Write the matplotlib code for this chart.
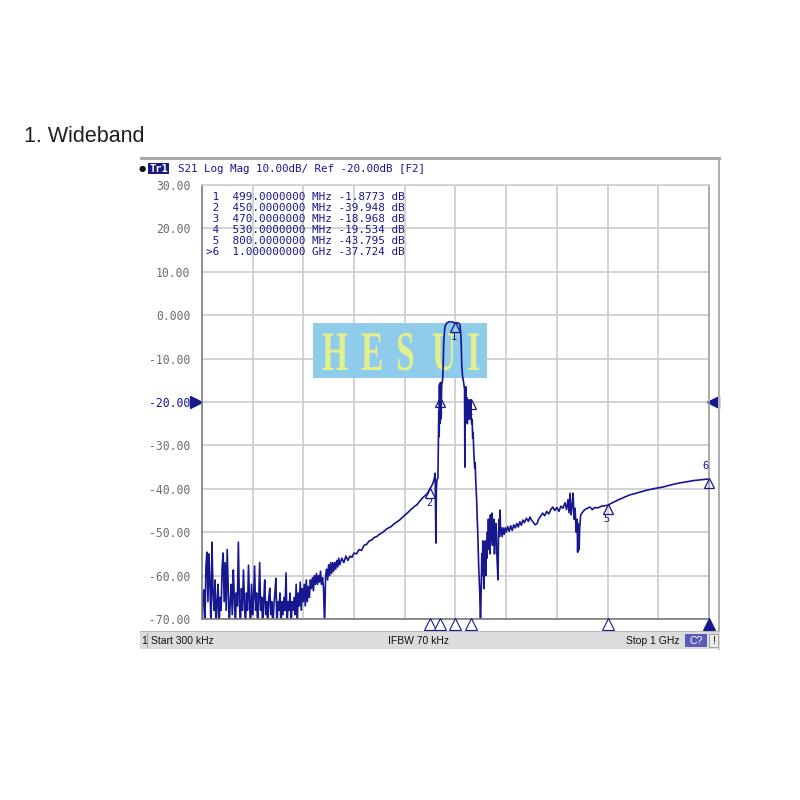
import matplotlib.pyplot as plt
import matplotlib.transforms as mtransforms
from matplotlib.patches import Rectangle, PathPatch
from matplotlib.textpath import TextPath
from matplotlib.font_manager import FontProperties

# ---------------- datos (MHz, dB) ----------------
# piso de ruido
ruido_freq = [0.3, 2, 4, 6, 8, 10, 12, 14, 16, 18,
              20, 22, 24, 26, 28, 30, 32, 34, 36, 38,
              40, 42, 44, 46, 48, 50, 52, 54, 56, 58,
              60, 62, 64, 66, 68, 70, 72, 74, 76, 78,
              80, 82, 84, 86, 88, 90, 92, 94, 96, 98,
              100, 102, 104, 106, 108, 110, 112, 114, 116, 118,
              120, 122, 124, 126, 128, 130, 132, 134, 136, 138,
              140, 142, 144, 146, 148, 150, 152, 154, 156, 158,
              160, 162, 164, 166, 168, 170, 172, 174, 176, 178,
              180, 182, 184, 186, 188, 190, 192, 194, 196, 198,
              200, 202, 204, 206, 208, 210, 212, 214]
ruido_db = [-72, -64, -63.3, -72, -58, -54.6, -66, -55, -62, -72,
            -52.3, -64, -68, -61, -72, -66, -62, -72, -65, -68,
            -58, -54.8, -66, -57, -68, -54, -63, -72, -66, -62,
            -69, -58.7, -65, -72, -64, -67, -52.3, -66, -72, -63,
            -68, -58.7, -66, -72, -64, -68, -57.6, -66, -72, -62,
            -69, -65, -57.8, -68, -64, -72, -66, -57, -68, -65,
            -72, -66, -61, -69, -66, -72, -65, -62.9, -69, -66,
            -72, -67, -64, -60.6, -72, -66, -68, -64, -72, -66,
            -69, -65, -68, -59.4, -72, -66, -68, -64, -72, -66,
            -68, -65, -69, -62, -72, -64, -67, -61.5, -68, -63,
            -66, -62, -67, -61, -66, -62.5, -65, -61]

# flanco inferior
flanco_bajo_freq = [216, 218, 220, 222, 224, 226, 228, 230, 232, 234,
                    236, 238, 240, 242, 244, 246, 248, 250, 252, 254,
                    256, 258, 260, 262, 264, 266, 268, 270, 272, 276,
                    280, 284, 288, 292, 296, 300, 305, 310, 315, 320,
                    325, 330, 335, 340, 345, 350, 357, 365, 372, 380,
                    390, 398, 405, 412, 420, 424, 430, 436, 442, 446,
                    450, 455, 458]
flanco_bajo_db = [-63, -60.5, -63.5, -60, -62, -59.5, -62, -60, -61.5, -59,
                  -62, -60.5, -63, -72, -60, -58.5, -61, -57.5, -60, -57,
                  -59.5, -57, -59, -57, -58.5, -56.5, -58, -56, -57.5, -56,
                  -57, -55.5, -56.5, -55.5, -55.8, -54.8, -55, -54, -54.2, -53,
                  -52.8, -52, -51.8, -51.2, -51, -50.5, -50, -49.2, -48.8, -48,
                  -47.2, -46.3, -45.6, -44.8, -44.0, -43.7, -42.8, -42.0, -41.4, -40.8,
                  -39.95, -38.9, -37.8]

# banda de paso
paso_freq = [459, 460, 461.5, 462.5, 463.5, 465.5, 467, 467.5, 468, 468.5,
             469, 469.5, 470, 470.5, 471, 471.5, 472, 473, 474, 475,
             476, 477, 478, 479, 480, 483, 487, 492, 495, 499,
             503, 507, 509, 511, 512.5, 514, 516, 518, 518.6, 519.5,
             520.5, 521.5, 522.5, 523.5, 524.5, 525.5, 526.5, 527.5, 528.5, 529.5,
             530, 531, 532, 533, 534, 535, 536, 538, 539, 540,
             542, 543, 544, 545, 546, 548, 549.5]
paso_db = [-37.2, -36.4, -52.5, -40, -38, -37.5, -24, -22, -28, -16,
           -25, -18, -19, -15.5, -24, -17, -21, -16, -15.5, -14.5,
           -11, -6, -4.6, -3, -2.4, -1.8, -1.55, -1.5, -1.6, -1.88,
           -1.7, -1.9, -2.2, -5, -11.5, -14, -15.4, -17, -35, -18,
           -16.5, -22, -19, -25, -20, -24, -19.5, -23, -20.5, -24,
           -19.5, -23, -25, -24, -28.3, -27, -31, -35.2, -34, -38,
           -43, -47, -50, -54, -58.2, -64, -72]

# flanco superior
flanco_alto_freq = [551, 552, 553, 554, 555, 556, 557, 558, 559, 560,
                    561, 562, 563, 564, 565, 566, 567, 568, 569, 570,
                    571, 572, 573, 574, 575, 576, 577, 578, 579, 580,
                    582, 584, 585, 586, 587, 588, 589, 590, 592, 594,
                    596, 598, 600, 603, 606, 609, 612, 615, 618, 621,
                    624, 627, 630, 633, 636, 640, 644, 647, 650, 654,
                    657, 661, 664, 668, 672, 676, 680, 684, 688, 692,
                    696, 700, 704, 708, 712, 716, 719, 722, 724, 726,
                    728, 730, 732, 734, 736, 738, 740, 741, 742, 743,
                    744, 745, 747, 750, 755, 760, 765, 770, 775, 781,
                    788, 795, 800, 810, 820, 830, 844, 860, 875, 890,
                    909, 925, 940, 955, 970, 985, 1000]
flanco_alto_db = [-62, -55, -60, -52, -58, -63, -54, -57, -52, -60,
                  -53, -56, -50, -54, -47, -53, -48, -55, -46, -52,
                  -50, -45.6, -53, -49, -51, -47, -55, -49, -52, -48,
                  -56, -61, -50, -47, -51, -44.9, -50, -49, -51, -49,
                  -50.5, -49, -50, -48.7, -49.8, -48.5, -49.6, -48.3, -49, -48,
                  -48.8, -47.6, -48.4, -47.2, -47.8, -46.8, -47.5, -46.5, -47.2, -47.8,
                  -48.3, -48, -47, -46.3, -45.6, -46.2, -45.2, -45.8, -44.8, -44.2,
                  -45, -44.3, -45.2, -44, -44.5, -43.2, -44.8, -42.5, -45.5, -41,
                  -46, -44, -41, -47, -44.5, -50, -47, -54.6, -48, -52,
                  -54, -49, -46, -45.5, -44.8, -44.5, -44.2, -44.8, -44.3, -44.4,
                  -44, -43.9, -43.8, -43.2, -42.6, -42.1, -41.4, -40.9, -40.4, -40,
                  -39.6, -39.1, -38.7, -38.4, -38.1, -37.9, -37.72]

# marcadores
marcador_freq = [499, 450, 470, 530, 800, 1000]
marcador_db = [-1.8773, -39.948, -18.968, -19.534, -43.795, -37.724]

y_ticks = [30, 20, 10, 0, -10, -20, -30, -40, -50, -60, -70]
y_labels = ["30.00", "20.00", "10.00", "0.000", "-10.00", "-20.00",
            "-30.00", "-40.00", "-50.00", "-60.00", "-70.00"]

traza_freq = ruido_freq + flanco_bajo_freq + paso_freq + flanco_alto_freq
traza_db = ruido_db + flanco_bajo_db + paso_db + flanco_alto_db

AZUL = '#17178f'
GRIS = '#6e6e6e'
MONO = 'DejaVu Sans Mono'

fig = plt.figure(figsize=(8, 8), dpi=100)
fig.patch.set_facecolor('white')
# coordenadas en píxeles (origen arriba a la izquierda)
pix = mtransforms.Affine2D().scale(1 / 800, -1 / 800).translate(0, 1) + fig.transFigure

fig.text(24, 137, '1. Wideband', transform=pix, fontsize=15.5, family='Liberation Sans',
         color='#1e1e1e', va='center', ha='left')

# marco de la pantalla del analizador
fig.add_artist(Rectangle((140, 157), 581, 3, transform=pix, facecolor='#a8a8a8', edgecolor='none'))
fig.add_artist(Rectangle((718, 157), 2, 493, transform=pix, facecolor='#b0b0b0', edgecolor='none'))

# cabecera
fig.text(139, 168.5, '●', transform=pix, fontsize=6, color='#111111', va='center', ha='left')
fig.add_artist(Rectangle((148, 163), 21, 11, transform=pix, facecolor='#1a1a80', edgecolor='none'))
fig.text(158.5, 168.5, 'Tr1', transform=pix, fontsize=7.5, family=MONO, fontweight='bold',
         color='white', va='center', ha='center')
fig.text(178, 168.5, 'S21 Log Mag 10.00dB/ Ref -20.00dB [F2]', transform=pix, fontsize=7.8,
         family=MONO, color=AZUL, va='center', ha='left')

# tabla de marcadores
for i, (f, v) in enumerate(zip(marcador_freq, marcador_db)):
    f_txt = f"{f / 1000:.9f} GHz" if f >= 1000 else f"{f:.7f} MHz"
    pref = '>' if i == len(marcador_freq) - 1 else ' '
    linea = f"{pref}{i + 1}  {f_txt} {v:.5g} dB"
    fig.text(206, 196.5 + 11.1 * i, linea, transform=pix, fontsize=7.9, family=MONO,
             color=AZUL, va='center', ha='left')

# barra de estado
fig.add_artist(Rectangle((140, 632), 580, 17, transform=pix, facecolor='#dcdcdc', edgecolor='none'))
fig.add_artist(Rectangle((140, 631), 580, 1.2, transform=pix, facecolor='#b8b8b8', edgecolor='none'))
fig.text(141, 640.5, '1', transform=pix, fontsize=7.5, family='Liberation Sans', color='#111111',
         va='center', ha='left')
fig.add_artist(Rectangle((147, 633), 1, 15, transform=pix, facecolor='#a0a0a0', edgecolor='none'))
fig.text(151, 640.5, 'Start 300 kHz', transform=pix, fontsize=7.5, family='Liberation Sans',
         color='#111111', va='center', ha='left')
fig.text(419, 640.5, 'IFBW 70 kHz', transform=pix, fontsize=7.5, family='Liberation Sans',
         color='#111111', va='center', ha='center')
fig.text(680, 640.5, 'Stop 1 GHz', transform=pix, fontsize=7.5, family='Liberation Sans',
         color='#111111', va='center', ha='right')
fig.add_artist(Rectangle((685, 634), 22, 13, transform=pix, facecolor='#5a5ab8', edgecolor='none'))
fig.text(696, 640.5, 'C?', transform=pix, fontsize=7.5, family='Liberation Sans', color='white',
         va='center', ha='center')
fig.add_artist(Rectangle((709, 634), 9, 13, transform=pix, facecolor='#ececec', edgecolor='#9a9a9a', lw=0.6))
fig.text(713.5, 640.5, '!', transform=pix, fontsize=7.5, family='Liberation Sans', color='#111111',
         va='center', ha='center')

# ---------------- área de la traza ----------------
ax = fig.add_axes([202 / 800, 1 - 619 / 800, 507 / 800, 434 / 800])
ax.set_facecolor('none')
ax.set_xlim(0.3, 1000)
ax.set_ylim(-70, 30)
ax.set_xticks([100, 200, 300, 400, 500, 600, 700, 800, 900])
ax.set_xticklabels([])
ax.set_yticks(y_ticks)
ax.set_yticklabels(y_labels)
ax.tick_params(axis='both', length=0)
ax.tick_params(axis='y', pad=8.5, labelsize=8.3, labelcolor=GRIS)
for lab in ax.get_yticklabels():
    lab.set_family(MONO)
    if lab.get_text() == "-20.00":
        lab.set_color(AZUL)
ax.set_axisbelow(True)
ax.grid(True, color='#cfcfcf', lw=1.3)
ax.spines['left'].set_color('#7c7c7c')
ax.spines['bottom'].set_color('#7c7c7c')
ax.spines['right'].set_color('#9c9c9c')
ax.spines['top'].set_color('#cfcfcf')
for s in ax.spines.values():
    s.set_linewidth(1.2)

# marca de agua
ax.add_patch(Rectangle((313, 323), 174, 55, transform=pix, facecolor='#8fcbea',
                       edgecolor='none', zorder=1))
fp = FontProperties(family='Liberation Serif', weight='bold')
for letra, x0 in zip('HESUI', [322, 361, 396, 432, 467]):
    tp = TextPath((0, 0), letra, size=56, prop=fp)
    tr = mtransforms.Affine2D().scale(0.6, -1).translate(x0, 370) + pix
    ax.add_patch(PathPatch(tp, transform=tr, facecolor='#e3ee8c', edgecolor='none', zorder=1.1))

# traza
ax.plot(traza_freq, traza_db, color=AZUL, lw=1.2, zorder=2)

# marcadores sobre la traza
tri_off = mtransforms.offset_copy(ax.transData, fig=fig, x=0, y=-4, units='dots')
for i, (f, v) in enumerate(zip(marcador_freq, marcador_db)):
    ax.plot([f], [v], marker='^', ms=7.5, mfc='none', mec=AZUL, mew=0.9,
            transform=tri_off, clip_on=False, zorder=3)
    dy = 13 if i == len(marcador_freq) - 1 else -14
    ax.annotate(str(i + 1), (f, v), xytext=(-1 if f < 1000 else -3, dy), textcoords='offset pixels',
                fontsize=7.5, family=MONO, color=AZUL, ha='center', va='center',
                annotation_clip=False, zorder=3)

# marcadores bajo el eje x
for i, f in enumerate(marcador_freq):
    activo = i == len(marcador_freq) - 1
    ax.plot([f], [-0.012], marker='^', ms=8, mfc=AZUL if activo else 'white', mec=AZUL,
            mew=0.8, transform=ax.get_xaxis_transform(), clip_on=False, zorder=3)

# nivel de referencia
ax.plot([-0.011], [-20], marker='>', ms=8, color=AZUL, transform=ax.get_yaxis_transform(),
        clip_on=False)
ax.plot([1.007], [-20], marker='<', ms=8, color=AZUL, transform=ax.get_yaxis_transform(),
        clip_on=False)

plt.savefig('out.png', dpi=100)
plt.close()
